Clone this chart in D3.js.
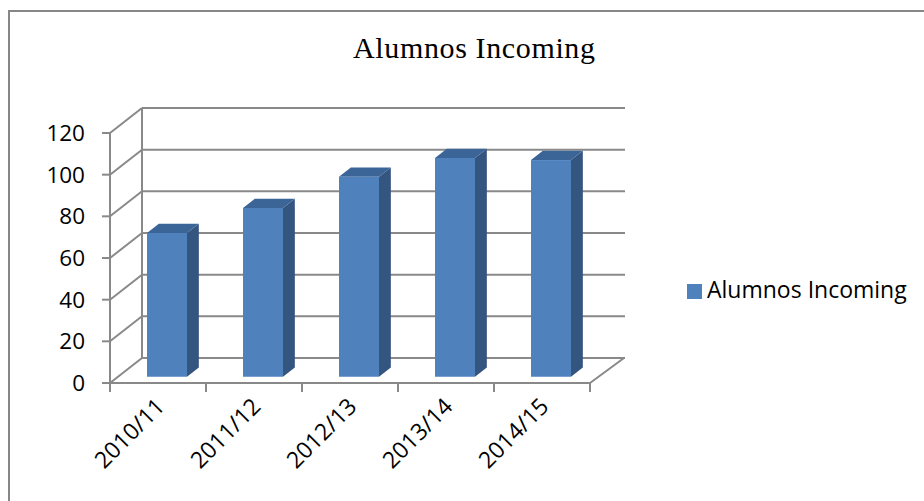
<!DOCTYPE html>
<html>
<head>
<meta charset="utf-8">
<script src="https://cdn.jsdelivr.net/npm/d3@7"></script>
<style>
  body { margin: 0; background: #fff; }
  svg { display: block; }
</style>
</head>
<body>
<div id="container"></div>
<script>
// data
const categories = ["2010/11", "2011/12", "2012/13", "2013/14", "2014/15"]
const values = [69, 81, 96, 105, 104]
const yTicks = [0, 20, 40, 60, 80, 100, 120]
const seriesName = "Alumnos Incoming"

const width = 924, height = 501

const svg = d3.select("#container").append("svg")
  .attr("width", width)
  .attr("height", height)

// chart border (only left + top visible in the crop)
svg.append("rect")
  .attr("x", 9).attr("y", 11)
  .attr("width", 960).attr("height", 520)
  .attr("fill", "none")
  .attr("stroke", "#878787")
  .attr("stroke-width", 2)

// front plane scales
const x = d3.scaleBand().domain(categories).range([110, 590])
const y = d3.scaleLinear().domain([0, 120]).range([383, 133])

// depth offset of the back wall
const DX = 32, DY = -25
const P = (px, py, f) => [px + DX * f, py + DY * f]

const gridCol = "#898989"
const grid = svg.append("g")

// back wall gridlines + diagonal to the front axis
yTicks.forEach(t => {
  const [bx, by] = P(110, y(t), 1)
  grid.append("line")
    .attr("x1", bx).attr("y1", by).attr("x2", 625).attr("y2", by)
    .attr("stroke", gridCol).attr("stroke-width", 2)
  grid.append("line")
    .attr("x1", 110).attr("y1", y(t)).attr("x2", bx).attr("y2", by)
    .attr("stroke", gridCol).attr("stroke-width", 2)
  grid.append("line")
    .attr("x1", 102).attr("y1", y(t)).attr("x2", 110).attr("y2", y(t))
    .attr("stroke", gridCol).attr("stroke-width", 2)
})
// back wall left edge
grid.append("line")
  .attr("x1", 110 + DX).attr("y1", y(0) + DY).attr("x2", 110 + DX).attr("y2", y(120) + DY)
  .attr("stroke", gridCol).attr("stroke-width", 2)
// front value axis
grid.append("line")
  .attr("x1", 110).attr("y1", y(0)).attr("x2", 110).attr("y2", y(120))
  .attr("stroke", gridCol).attr("stroke-width", 2)
// floor: front edge, right edge
grid.append("line")
  .attr("x1", 110).attr("y1", y(0)).attr("x2", 590).attr("y2", y(0))
  .attr("stroke", gridCol).attr("stroke-width", 2)
grid.append("line")
  .attr("x1", 590).attr("y1", y(0)).attr("x2", 590 + DX + 2).attr("y2", y(0) + DY)
  .attr("stroke", gridCol).attr("stroke-width", 2)
// category ticks
const catTicks = categories.map(c => x(c)).concat([590])
catTicks.forEach(px => {
  grid.append("line")
    .attr("x1", px).attr("y1", y(0)).attr("x2", px).attr("y2", y(0) + 9)
    .attr("stroke", gridCol).attr("stroke-width", 2)
})

// bars: front face sits at depth f0, back at f1
const f0 = 0.25, f1 = 0.62, barW = 40
const bars = svg.append("g").selectAll("g")
  .data(categories.map((c, i) => ({ c, v: values[i] })))
  .enter().append("g")

bars.each(function(d) {
  const g = d3.select(this)
  const cx = x(d.c) + x.bandwidth() / 2 + 1
  const [l, b] = P(cx - barW / 2, y(0), f0)
  const [, t] = P(0, y(d.v), f0)
  const r = l + barW
  const ox = DX * (f1 - f0), oy = DY * (f1 - f0)
  // side
  g.append("path")
    .attr("d", `M${r},${b}L${r + ox},${b + oy}L${r + ox},${t + oy}L${r},${t}Z`)
    .attr("fill", "#33557f")
  // top
  g.append("path")
    .attr("d", `M${l},${t}L${l + ox},${t + oy}L${r + ox},${t + oy}L${r},${t}Z`)
    .attr("fill", "#3b6497")
  // front
  g.append("rect")
    .attr("x", l).attr("y", t).attr("width", barW).attr("height", b - t)
    .attr("fill", "#4f81bd")
})

// y tick labels
svg.append("g").selectAll("text")
  .data(yTicks).enter().append("text")
  .attr("x", 85).attr("y", d => y(d))
  .attr("dy", "0.36em")
  .attr("text-anchor", "end")
  .style("font-family", "Open Sans")
  .style("font-size", "22.5px")
  .attr("fill", "#000")
  .text(d => d)

// category labels, rotated
svg.append("g").selectAll("text")
  .data(categories).enter().append("text")
  .attr("transform", d => `translate(${x(d) + x.bandwidth() / 2 + 8},${408}) rotate(-45)`)
  .attr("text-anchor", "end")
  .style("font-family", "Open Sans")
  .style("font-size", "23px")
  .attr("fill", "#000")
  .text(d => d)

// title
svg.append("text")
  .attr("x", 474).attr("y", 58)
  .attr("text-anchor", "middle")
  .style("font-family", "Liberation Serif")
  .style("font-size", "30px")
  .attr("textLength", 242)
  .attr("fill", "#000")
  .text(seriesName)

// legend
svg.append("rect")
  .attr("x", 687).attr("y", 284).attr("width", 15).attr("height", 15)
  .attr("fill", "#4f81bd")
svg.append("text")
  .attr("x", 707).attr("y", 298)
  .style("font-family", "Open Sans")
  .style("font-size", "23px")
  .attr("fill", "#000")
  .text(seriesName)
</script>
</body>
</html>
